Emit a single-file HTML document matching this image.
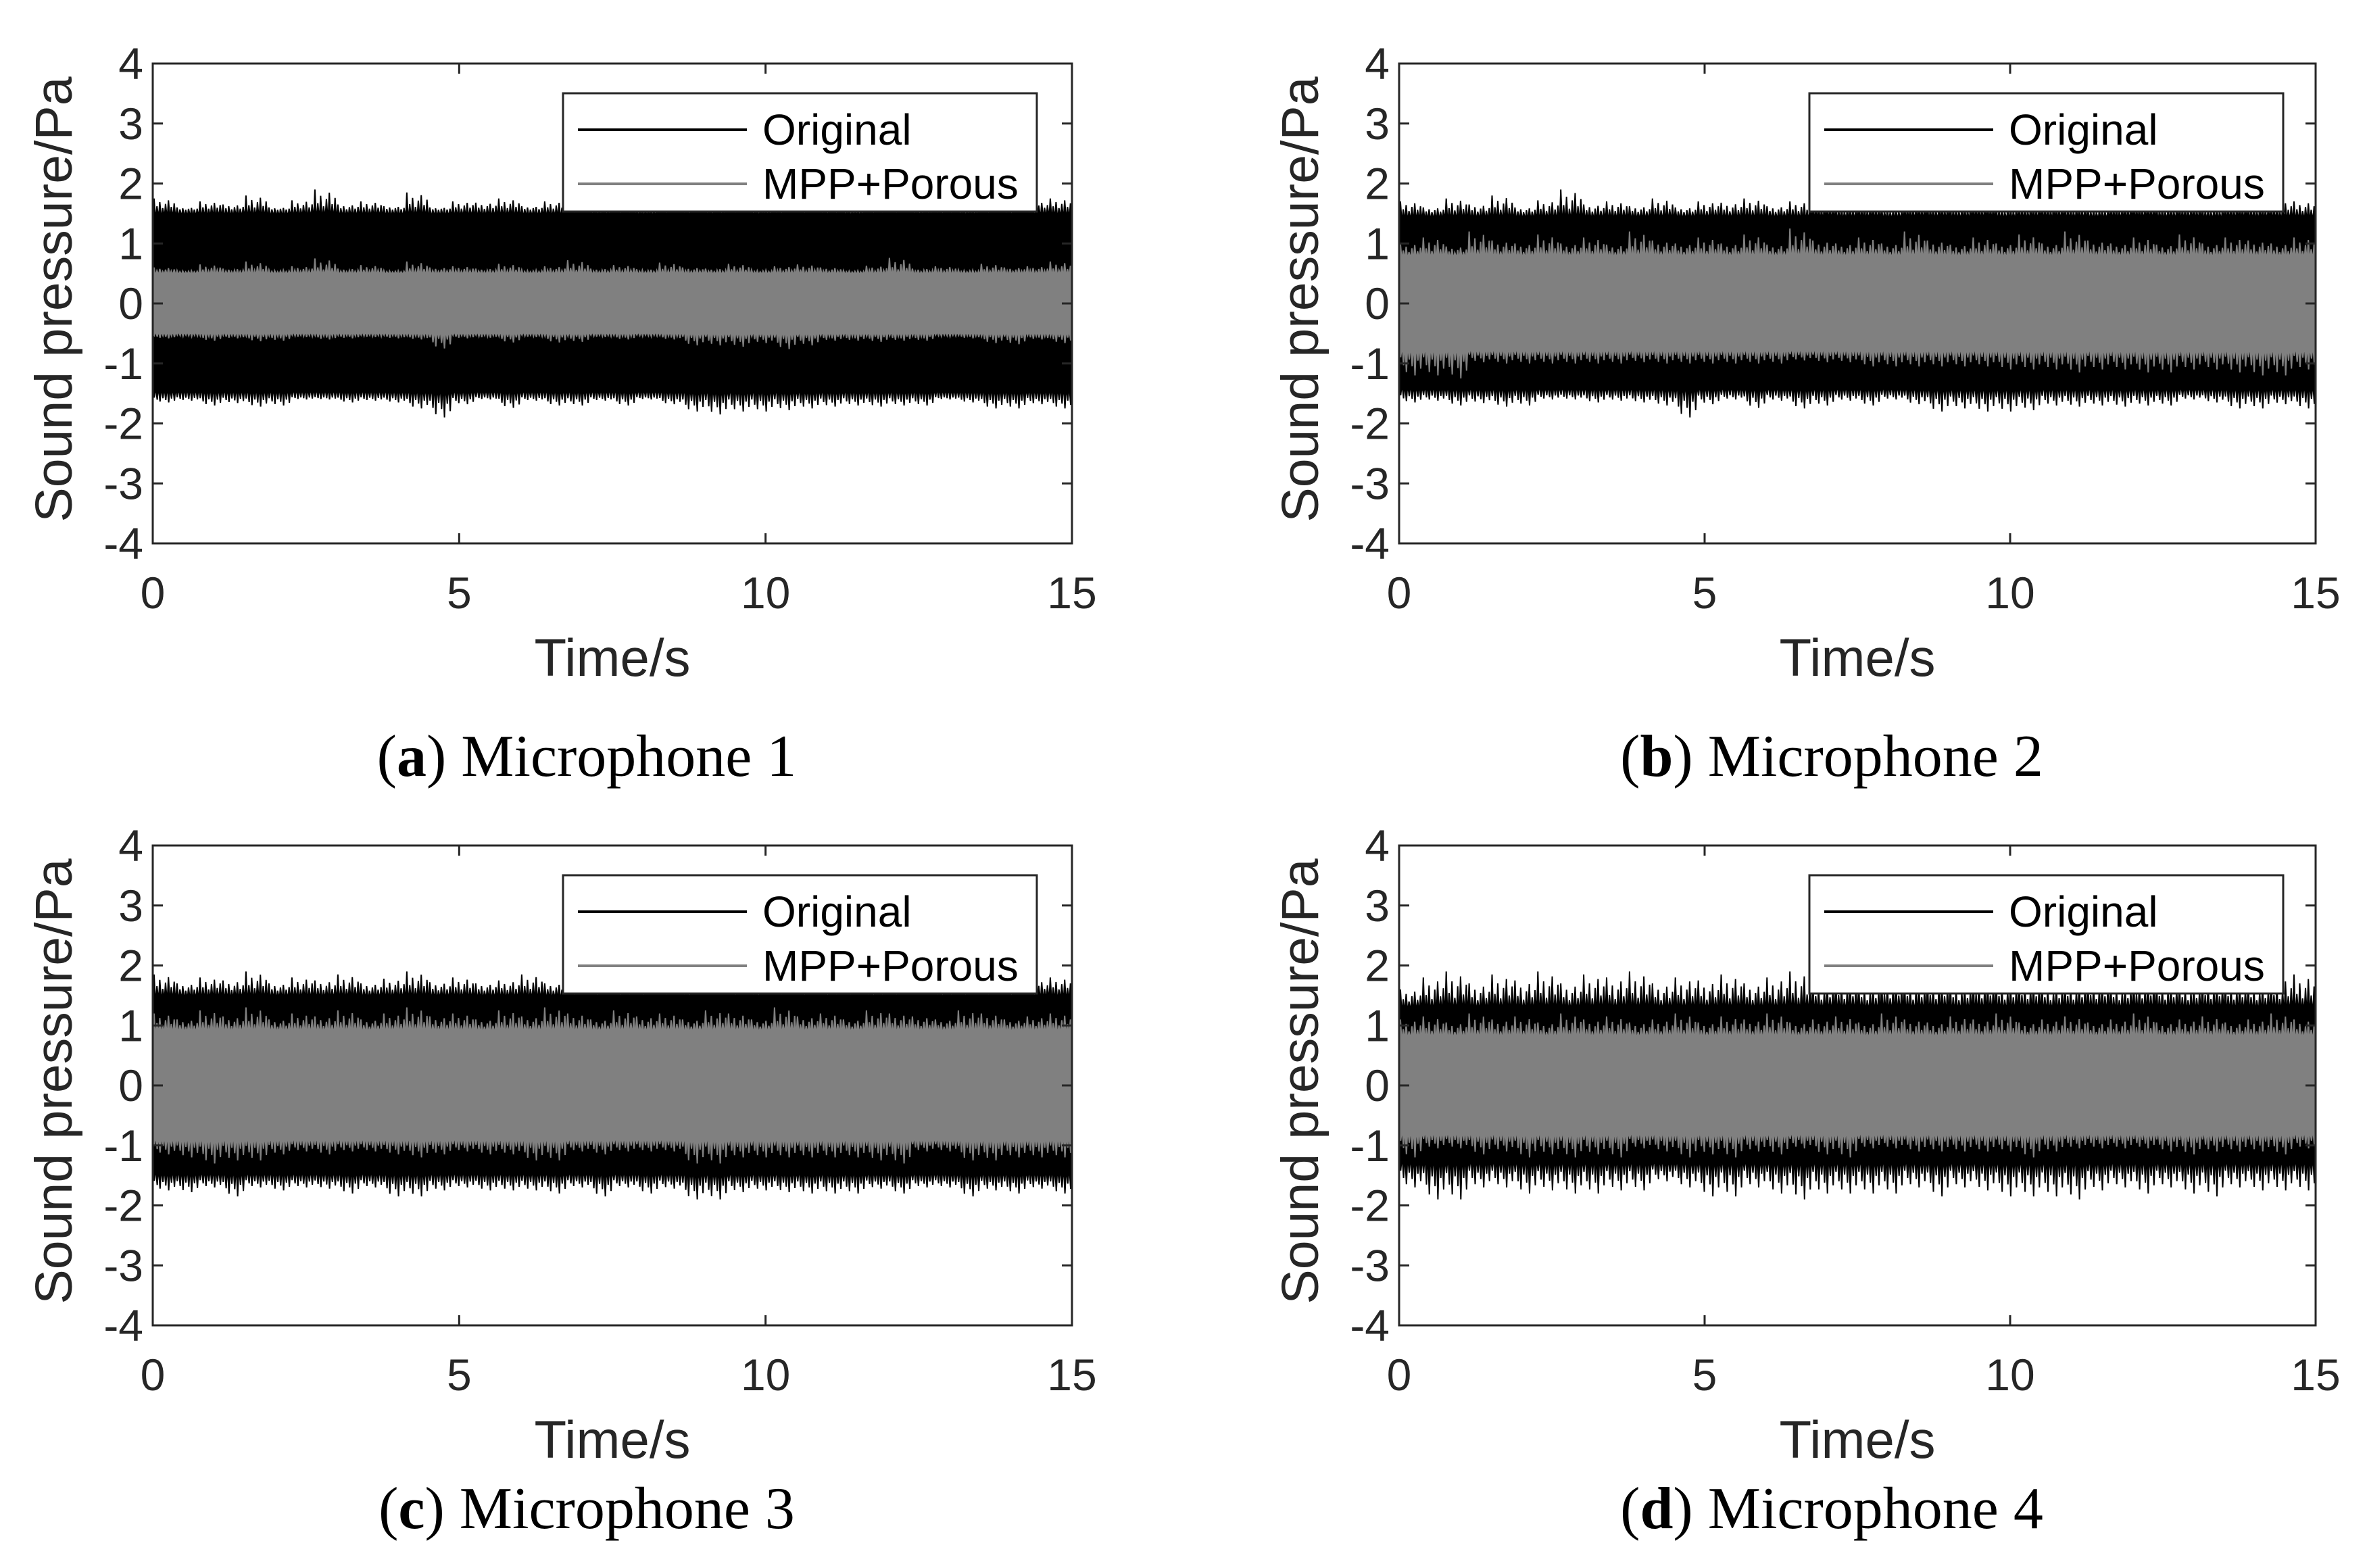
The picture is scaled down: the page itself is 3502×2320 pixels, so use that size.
<!DOCTYPE html>
<html><head><meta charset="utf-8"><style>
html,body{margin:0;padding:0;background:#fff;}
svg{display:block;}
</style></head><body>
<svg id="fig" width="3502" height="2320" viewBox="0 0 3502 2320" xmlns="http://www.w3.org/2000/svg"></svg>
<script>
const panelLabels = ['a','b','c','d'];
const xTicks = [0,5,10,15];
const yTicks = [-4,-3,-2,-1,0,1,2,3,4];
const seriesNames = ['Original','MPP+Porous'];
const origCore = [1.55,1.5,1.55,1.35];
const mppCore = [0.52,0.82,0.95,0.85];
const origPeaksA = [1.75,1.6,1.7,1.65,1.8,1.6,1.72,1.9,1.65,1.7,1.62,1.85,1.6,1.7,1.68,1.75,1.62,1.7,1.8,1.65,1.72,1.6,1.75,1.7,1.66,1.8,1.62,1.7,1.74,1.68,1.6,1.72,1.78,1.65,1.7,1.62,1.75,1.68,1.7,1.75];
const mppPeaksA = [0.6,0.55,0.65,0.58,0.7,0.56,0.62,0.75,0.58,0.64,0.55,0.7,0.6,0.62,0.58,0.66,0.56,0.62,0.72,0.58,0.64,0.57,0.68,0.6,0.58,0.66,0.56,0.62,0.65,0.6,0.55,0.63,0.76,0.58,0.62,0.56,0.66,0.6,0.62,0.7];
const origPeaksB = [1.7,1.6,1.75,1.65,1.8,1.6,1.72,1.9,1.65,1.7,1.62,1.75,1.6,1.7,1.68,1.75,1.62,1.7,1.8,1.65,1.72,1.6,1.75,1.7,1.66,1.8,1.62,1.7,1.74,1.68,1.6,1.72,1.78,1.65,1.7,1.62,1.75,1.68,1.7,1.7];
const mppPeaksB = [1.0,1.1,0.95,1.2,1.05,1.0,1.15,1.0,1.1,0.98,1.2,1.05,1.0,1.1,1.0,1.15,0.98,1.25,1.05,1.0,1.1,1.0,1.2,1.05,0.98,1.1,1.0,1.15,1.0,1.2,1.05,1.0,1.1,0.98,1.15,1.0,1.1,1.05,1.0,1.1];
const origPeaksC = [1.85,1.7,1.8,1.75,1.9,1.7,1.8,1.75,1.85,1.7,1.78,1.9,1.72,1.8,1.7,1.75,1.85,1.7,1.78,1.8,1.72,1.75,1.8,1.7,1.85,1.75,1.7,1.8,1.75,1.72,1.8,1.7,1.78,1.85,1.7,1.75,1.8,1.72,1.75,1.8];
const mppPeaksC = [1.2,1.1,1.25,1.15,1.3,1.1,1.2,1.15,1.25,1.1,1.2,1.3,1.15,1.2,1.1,1.25,1.15,1.3,1.2,1.1,1.25,1.15,1.2,1.1,1.25,1.2,1.1,1.3,1.15,1.2,1.1,1.25,1.2,1.15,1.1,1.25,1.2,1.1,1.15,1.2];
const origPeaksD = [1.6,1.8,1.9,1.7,1.85,1.75,1.9,1.7,1.85,1.8,1.9,1.7,1.8,1.75,1.85,1.7,1.8,1.9,1.75,1.8,1.7,1.85,1.75,1.8,1.7,1.85,1.75,1.8,1.7,1.75,1.8,1.7,1.85,1.75,1.7,1.8,1.75,1.7,1.8,1.85];
const mppPeaksD = [1.1,1.15,1.05,1.2,1.1,1.15,1.05,1.2,1.1,1.15,1.05,1.1,1.2,1.05,1.15,1.1,1.2,1.05,1.1,1.15,1.05,1.2,1.1,1.05,1.15,1.1,1.2,1.05,1.1,1.15,1.05,1.1,1.2,1.05,1.1,1.15,1.05,1.1,1.2,1.1];
const origPeaks = [origPeaksA,origPeaksB,origPeaksC,origPeaksD];
const mppPeaks = [mppPeaksA,mppPeaksB,mppPeaksC,mppPeaksD];

const NS='http://www.w3.org/2000/svg';
const svg=document.getElementById('fig');
function mk(tag,attrs,parent){const e=document.createElementNS(NS,tag);for(const k in attrs)e.setAttribute(k,attrs[k]);(parent||svg).appendChild(e);return e;}

const lefts=[226,2070,226,2070], widths=[1360,1356,1360,1356];
const tops=[94,94,1251,1251], H=710;
const subFrac=[1,0.35,0.7,0.2,0.55,0.85,0.3,0.6];

for(let p=0;p<4;p++){
  const L=lefts[p],W=widths[p],T=tops[p];
  const xs=v=>L+v/15*W, ys=v=>T+(4-v)/8*H;
  const g=mk('g',{});
  
  
  function band(peaks,core,color,name){
    const n=peaks.length, step=15/n, m=subFrac.length, sub=step/m;
    let up=[],dn=[];
    up.push([0,core]);
    for(let i=0;i<n;i++){
      const pkU=peaks[i], pkD=peaks[(i*7+3)%n];
      for(let k=0;k<m;k++){
        const x0=i*step+k*sub;
        const fu=subFrac[k], fd=subFrac[(k+3)%m];
        up.push([x0+sub*0.1,core*0.93],[x0+sub*0.45,core+(pkU-core)*fu],[x0+sub*0.8,core*0.97]);
        dn.push([x0+sub*0.2,-core*0.95],[x0+sub*0.55,-(core+(pkD-core)*fd)],[x0+sub*0.9,-core*0.92]);
      }
    }
    up.push([15,core]);
    dn.push([15,-core]);
    const pts=up.concat(dn.reverse()).map(a=>xs(Math.min(15,a[0])).toFixed(1)+','+ys(a[1]).toFixed(1)).join(' ');
    const el=mk('polygon',{points:pts,fill:color,stroke:color,'stroke-width':2,'stroke-linejoin':'miter'},g);
    
    
  }
  band(origPeaks[p],origCore[p],'#000','series-original');
  band(mppPeaks[p],mppCore[p],'#808080','series-mpp-porous');
  const box=mk('rect',{x:L,y:T,width:W,height:H,fill:'none',stroke:'#262626','stroke-width':3},g);
  
  
  yTicks.forEach(v=>{
    const y=ys(v);
    mk('line',{x1:L,x2:L+15,y1:y,y2:y,stroke:'#262626','stroke-width':3},g);
    mk('line',{x1:L+W-15,x2:L+W,y1:y,y2:y,stroke:'#262626','stroke-width':3},g);
    const t=mk('text',{x:L-14,y:y+23,'text-anchor':'end','font-size':66,fill:'#262626','font-family':'Liberation Sans, sans-serif'},g);
    t.textContent=v;
    
    
  });
  xTicks.forEach(v=>{
    const x=xs(v);
    mk('line',{x1:x,x2:x,y1:T+H,y2:T+H-15,stroke:'#262626','stroke-width':3},g);
    mk('line',{x1:x,x2:x,y1:T,y2:T+15,stroke:'#262626','stroke-width':3},g);
    const t=mk('text',{x:x,y:T+H+96,'text-anchor':'middle','font-size':66,fill:'#262626','font-family':'Liberation Sans, sans-serif'},g);
    t.textContent=v;
    
    
  });
  const xl=mk('text',{x:L+W/2,y:T+H+196,'text-anchor':'middle','font-size':78,fill:'#262626','font-family':'Liberation Sans, sans-serif'},g);
  xl.textContent='Time/s';
  
  
  const yx=L-120, yy=T+H/2-6;
  const yl=mk('text',{x:yx,y:yy,'text-anchor':'middle','font-size':77,fill:'#262626','font-family':'Liberation Sans, sans-serif',transform:'rotate(-90 '+yx+' '+yy+')'},g);
  yl.textContent='Sound pressure/Pa';
  
  
  const lx=L+607, ly=T+44;
  const lg=mk('g',{},g);
  
  
  mk('rect',{x:lx,y:ly,width:701,height:175,fill:'#fff',stroke:'#262626','stroke-width':3},lg);
  ['#000','#808080'].forEach((c,i)=>{
    const yy2=ly+54+i*80;
    const ln=mk('line',{x1:lx+22,x2:lx+272,y1:yy2,y2:yy2,stroke:c,'stroke-width':4},lg);
    
    
    const t=mk('text',{x:lx+295,y:yy2+22,'font-size':64,fill:'#000','font-family':'Liberation Sans, sans-serif'},lg);
    t.textContent=seriesNames[i];
    
    
  });
  const capY=p<2?1148:2261;
  const cap=mk('text',{x:L+W/2-38,y:capY,'text-anchor':'middle','font-size':88,fill:'#000','font-family':'Liberation Serif, serif'},g);
  cap.innerHTML='(<tspan font-weight="bold">'+panelLabels[p]+'</tspan>) Microphone '+(p+1);
  
  
}
</script>
</body></html>
